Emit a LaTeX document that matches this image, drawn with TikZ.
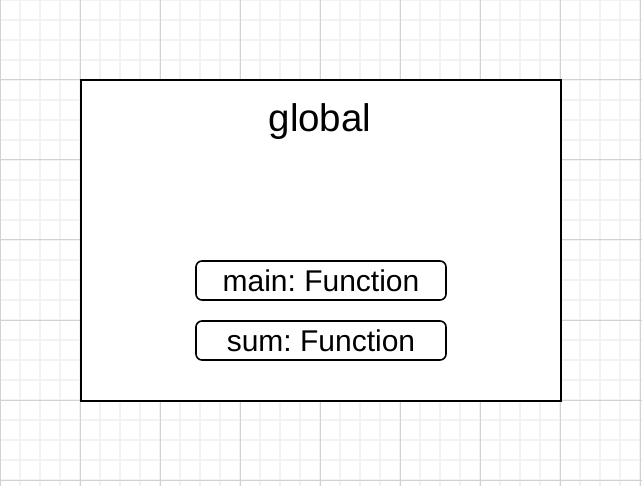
\documentclass[tikz,border=0pt]{standalone}
\usepackage{fontspec}
\setmainfont{Liberation Sans}
\frenchspacing
\definecolor{minorgrid}{HTML}{F2F2F2}
\definecolor{majorgrid}{HTML}{D2D2D2}
\begin{document}
\begin{tikzpicture}[x=1pt,y=-1pt,
  minorline/.style={draw=minorgrid,line width=1.6pt},
  majorline/.style={draw=majorgrid,line width=1pt},
  scopebox/.style={draw=black,line width=2pt,fill=white},
  funcbox/.style={draw=black,line width=1.6pt,rounded corners=6pt,fill=white},
  functext/.style={font=\fontsize{30}{35}\selectfont,inner sep=0pt,anchor=base},
  titletext/.style={font=\fontsize{38.5}{44}\selectfont,inner sep=0pt,anchor=base}]
\useasboundingbox (0,0) rectangle (642,486);
\fill[white] (0,0) rectangle (642,486);
\foreach \x in {0,20,...,640} \draw[minorline] (\x,0) -- (\x,486);
\foreach \y in {0,20,...,480} \draw[minorline] (0,\y) -- (642,\y);
\foreach \x in {0,80,...,640} \draw[majorline] (\x,0) -- (\x,486);
\foreach \y in {0,80,...,480} \draw[majorline] (0,\y) -- (642,\y);
\draw[scopebox] (80.5,80.5) rectangle (560.5,400.5);
\node[titletext] (title) at (320,132) {global};
\draw[funcbox] (196,261) rectangle (446,300);
\draw[funcbox] (196,321) rectangle (446,360);
\node[functext] (main) at (321,291.5) {main: Function};
\node[functext] (sum) at (321,351.5) {sum: Function};
\end{tikzpicture}
\end{document}
